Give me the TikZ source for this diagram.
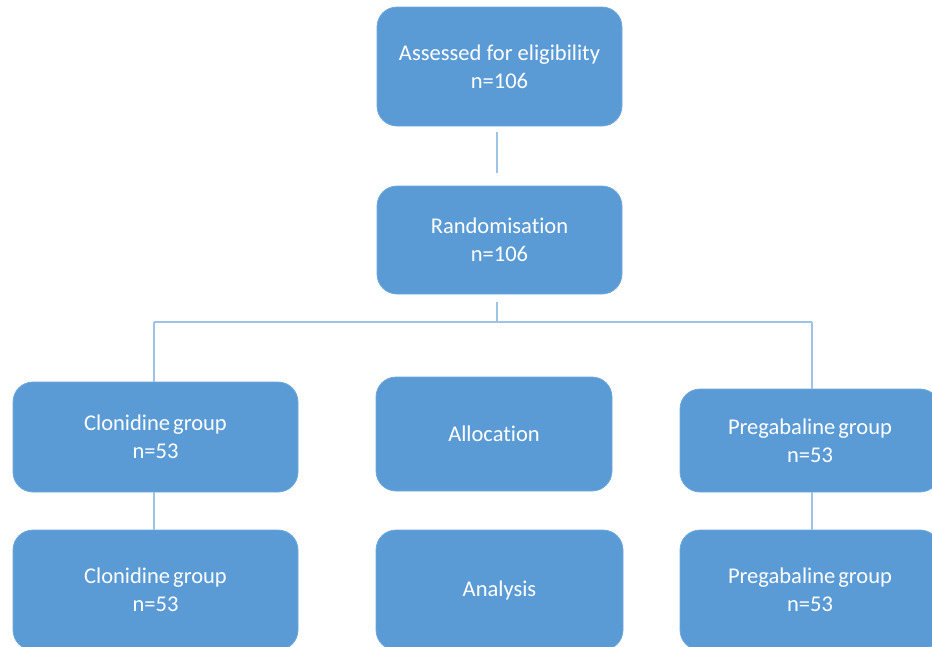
\documentclass[tikz,border=0pt]{standalone}
\usepackage{fontspec}
\setmainfont{Carlito}[Ligatures={NoCommon}]
\definecolor{boxblue}{HTML}{5B9BD5}
\definecolor{boxedge}{HTML}{6FA8DC}
\definecolor{linkblue}{HTML}{9DC3E6}
\begin{document}
\begin{tikzpicture}[x=1pt,y=-1pt,
  flowbox/.style={draw=boxedge, line width=0.8pt, fill=boxblue, rounded corners=20pt,
    text=white, align=center, inner sep=0pt,
    font=\fontsize{22.5}{28}\selectfont},
  link/.style={draw=linkblue, line width=2pt}]
\useasboundingbox (0,0) rectangle (932,646);
\node[flowbox, minimum width=245pt, minimum height=119pt] (top) at (499.5,66.5) {Assessed for eligibility\\n=106};
\node[flowbox, minimum width=245pt, minimum height=108pt] (rand) at (499.5,240) {Randomisation\\n=106};
\node[flowbox, minimum width=285pt, minimum height=110pt] (clon1) at (155.5,437) {Clonidine\hspace{-2pt} group\\n=53};
\node[flowbox, minimum width=236pt, minimum height=114pt] (alloc) at (494,434) {Allocation};
\node[flowbox, minimum width=260pt, minimum height=103pt] (preg1) at (810,440.5) {Pregabaline\hspace{-2pt} group\\n=53};
\node[flowbox, minimum width=285pt, minimum height=120pt] (clon2) at (155.5,590) {Clonidine\hspace{-2pt} group\\n=53};
\node[flowbox, minimum width=247pt, minimum height=120pt] (anal) at (499.5,590) {Analysis};
\node[flowbox, minimum width=260pt, minimum height=120pt] (preg2) at (810,590) {Pregabaline\hspace{-2pt} group\\n=53};
\coordinate (hub) at (497,322);
\coordinate (lft) at (154,322);
\coordinate (rgt) at (812,322);
\draw[link, shorten <=6pt, shorten >=13pt] (top.south -| hub) -- (rand.north -| hub);
\draw[link, shorten <=8pt] (rand.south -| hub) -- (hub);
\draw[link] (lft) -- (rgt);
\draw[link] (lft) -- (clon1.north -| lft);
\draw[link] (rgt) -- (preg1.north -| rgt);
\draw[link] (clon1.south -| lft) -- (clon2.north -| lft);
\draw[link] (preg1.south -| rgt) -- (preg2.north -| rgt);
\end{tikzpicture}
\end{document}
